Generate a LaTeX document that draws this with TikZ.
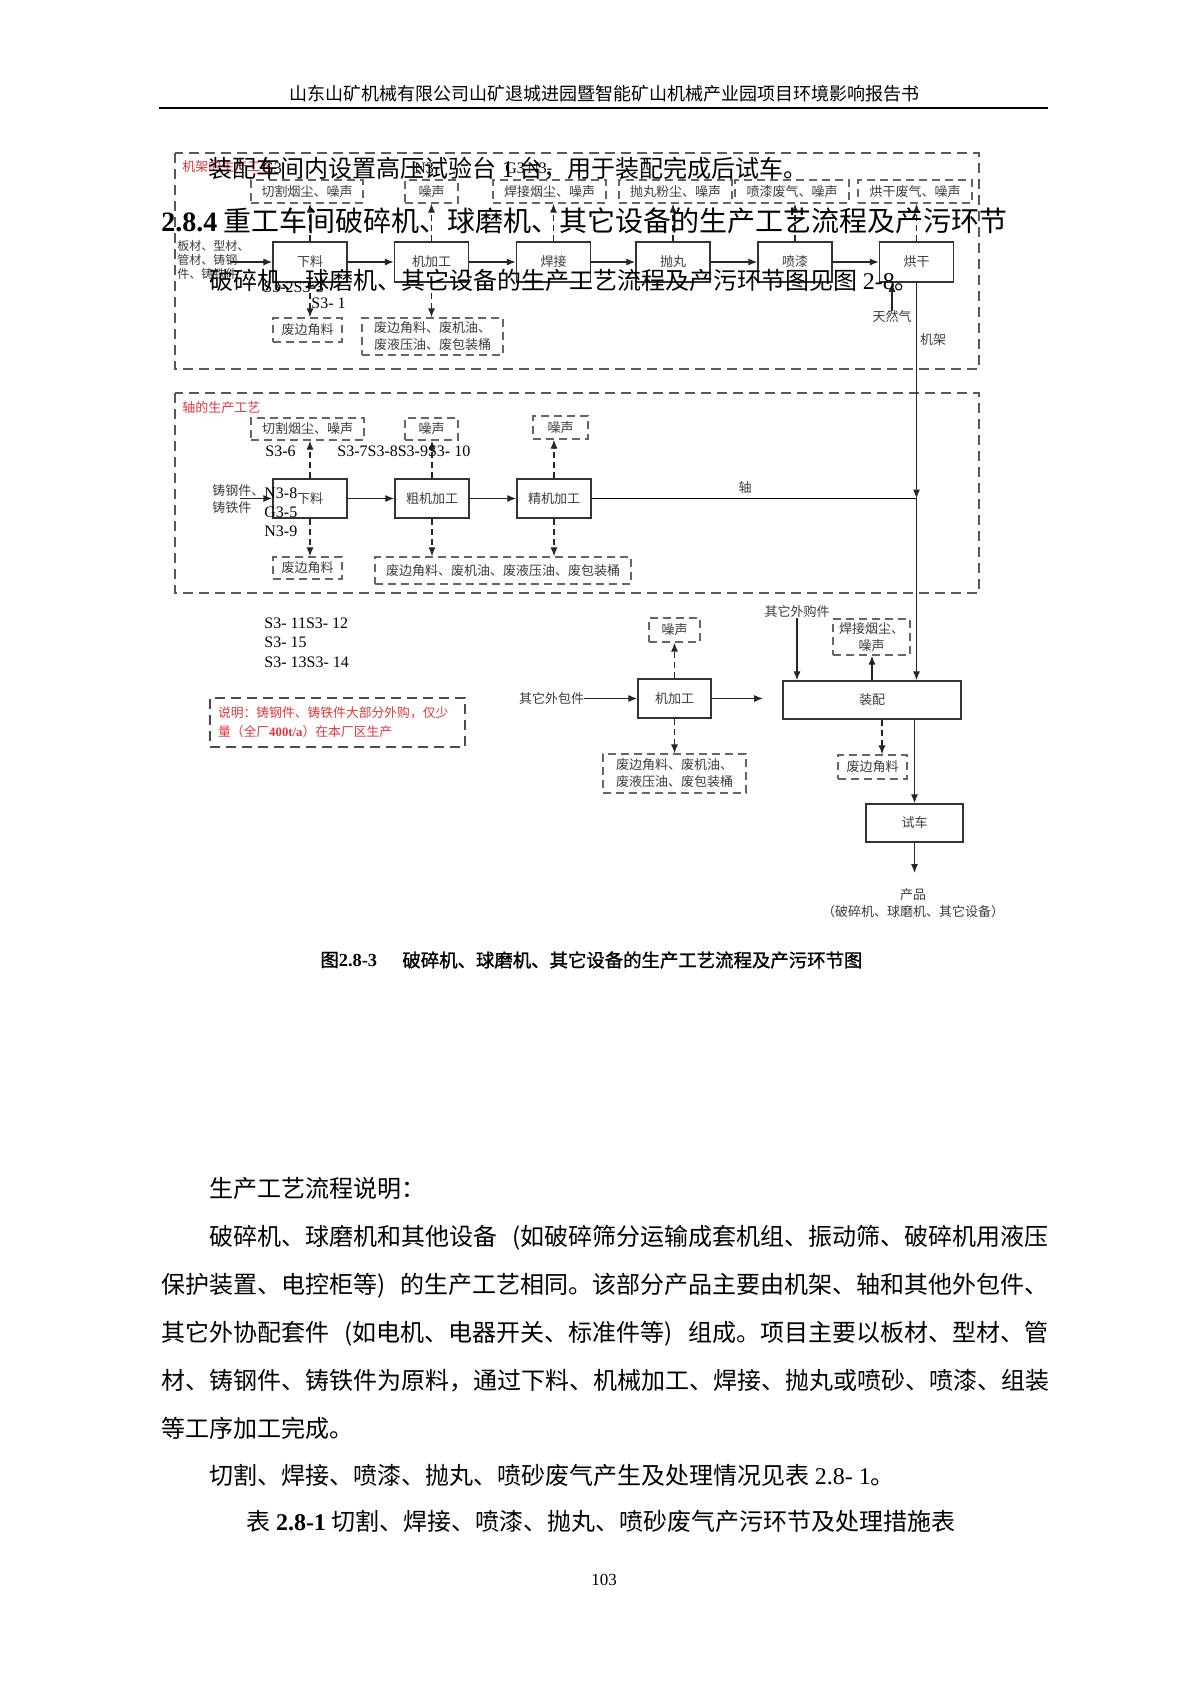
\documentclass[tikz,border=0pt]{standalone}
\usepackage{fontspec}
\setmainfont{Liberation Serif}
\newfontfamily\cjk{Noto Sans CJK SC}
\newfontfamily\cjkfb{Noto Sans CJK SC}[FakeBold=1.2]
\usetikzlibrary{arrows.meta}
\definecolor{redlbl}{RGB}{225,55,60}
\definecolor{ink}{RGB}{60,60,60}
\newcommand\jl[2]{{\XeTeXlinebreaklocale "zh"\XeTeXlinebreakskip=0pt plus 1fil\relax\hbox to #1{#2}}}
\tikzset{
 lbl/.style={font=\cjk\fontsize{6.5}{8.5}\selectfont, text=ink, inner sep=0pt, align=center},
 proc/.style={lbl, draw=black!80, line width=0.75pt},
 emis/.style={lbl, draw=black!60, line width=0.7pt, dash pattern=on 4pt off 2.5pt},
 frame/.style={draw=black!65, line width=0.8pt, dash pattern=on 5pt off 3pt},
 arr/.style={draw=black!85, line width=0.65pt, -{Latex[length=4.5pt,width=3.6pt]}},
 darr/.style={arr, dash pattern=on 3pt off 2pt},
 redl/.style={font=\cjk\fontsize{6.5}{8.5}\selectfont, text=redlbl, inner sep=0pt, anchor=west},
 code/.style={font=\rmfamily\fontsize{8}{9}\selectfont, inner sep=0pt, anchor=west},
 body/.style={font=\cjk\fontsize{12}{24}\selectfont, inner sep=0pt, anchor=base west},
}
\begin{document}
\begin{tikzpicture}[x=0.5pt,y=-0.5pt]
\fill[white] (0,0) rectangle (1190,1683);
\useasboundingbox (0,0) rectangle (1190,1683);
% header
\node[font=\cjk\fontsize{9}{11}\selectfont, inner sep=0pt] (hdr) at (604,94) {山东山矿机械有限公司山矿退城进园暨智能矿山机械产业园项目环境影响报告书};
\draw[line width=1.2pt] (159,108) -- (1048,108);

% ===== frame 1 =====
\draw[frame] (175,153) rectangle (979,369);
\node[redl] (r1) at (182,167) {机架的生产工艺};
\node[emis, minimum width=56pt, minimum height=11.5pt] (e1) at (307,191.5) {切割烟尘、噪声};
\node[emis, minimum width=26.5pt, minimum height=11.5pt] (e2) at (431.5,191.5) {噪声};
\node[emis, minimum width=56.5pt, minimum height=11.5pt] (e3) at (549.5,191.5) {焊接烟尘、噪声};
\node[emis, minimum width=56.5pt, minimum height=11.5pt] (e4) at (675.5,191.5) {抛丸粉尘、噪声};
\node[emis, minimum width=57pt, minimum height=11.5pt] (e5) at (792,191.5) {喷漆废气、噪声};
\node[emis, minimum width=57pt, minimum height=11.5pt] (e6) at (915,191.5) {烘干废气、噪声};
\node[proc, minimum width=37pt, minimum height=20pt] (p1) at (310,262) {下料};
\node[proc, minimum width=37pt, minimum height=20pt] (p2) at (431.5,262) {机加工};
\node[proc, minimum width=37pt, minimum height=20pt] (p3) at (553.5,262) {焊接};
\node[proc, minimum width=37pt, minimum height=20pt] (p4) at (673,262) {抛丸};
\node[proc, minimum width=37pt, minimum height=20pt] (p5) at (795,262) {喷漆};
\node[proc, minimum width=37pt, minimum height=20pt] (p6) at (916.5,262) {烘干};
\node[lbl, font=\cjk\fontsize{6}{7}\selectfont, align=left, anchor=west] (in1) at (177,259.5) {板材、型材、\\管材、铸钢\\件、铸铁件};
\coordinate (in1s) at (230,262);
\draw[arr] (in1s) -- (p1.west);
\draw[arr] (p1) -- (p2);
\draw[arr] (p2) -- (p3);
\draw[arr] (p3) -- (p4);
\draw[arr] (p4) -- (p5);
\draw[arr] (p5) -- (p6);
\foreach \p/\e in {p1/e1,p2/e2,p3/e3,p4/e4,p5/e5,p6/e6}
  \draw[darr] (\p.north) -- (\p.north |- \e.south);
\node[emis, minimum width=34.5pt, minimum height=12pt] (w1) at (307.5,330) {废边角料};
\node[emis, minimum width=70.5pt, minimum height=18.5pt] (w2) at (432.5,336.5) {废边角料、废机油、\\废液压油、废包装桶};
\draw[darr] (p1.south) -- (p1.south |- w1.north);
\draw[darr] (p2.south) -- (p2.south |- w2.north);
\node[lbl] (gas) at (892,317) {天然气};
\draw[arr] (gas.north) -- (gas.north |- p6.south);
\node[lbl] (jj) at (933,340) {机架};

% ===== frame 2 =====
\draw[frame] (175,393) rectangle (979,593);
\node[redl] (r2) at (182,408) {轴的生产工艺};
\node[emis, minimum width=56.5pt, minimum height=11pt] (s1) at (307.5,429) {切割烟尘、噪声};
\node[emis, minimum width=26.5pt, minimum height=11pt] (s2) at (431.5,429) {噪声};
\node[emis, minimum width=27.5pt, minimum height=11.5pt] (s3) at (560.5,427.5) {噪声};
\node[proc, minimum width=37pt, minimum height=19.5pt] (q1) at (310,498.5) {下料};
\node[proc, minimum width=37pt, minimum height=19.5pt] (q2) at (432,498.5) {粗机加工};
\node[proc, minimum width=37pt, minimum height=19.5pt] (q3) at (554,498.5) {精机加工};
\node[lbl, align=left, anchor=west] (in2) at (212,499.5) {铸钢件、\\铸铁件};
\coordinate (in2s) at (240,498.5);
\draw[arr] (in2s) -- (q1.west);
\draw[arr] (q1) -- (q2);
\draw[arr] (q2) -- (q3);
\foreach \p/\e in {q1/s1,q2/s2,q3/s3}
  \draw[darr] (\p.north) -- (\p.north |- \e.south);
\node[emis, minimum width=34.5pt, minimum height=11pt] (w3) at (307.5,568) {废边角料};
\node[emis, minimum width=128pt, minimum height=13.5pt] (w4) at (503,570.5) {废边角料、废机油、废液压油、废包装桶};
\draw[darr] (q1.south) -- (q1.south |- w3.north);
\draw[darr] (q2.south) -- (q2.south |- w4.north);
\draw[darr] (q3.south) -- (q3.south |- w4.north);
\coordinate (J) at (p6.south |- q3.east);
\draw (q3.east) -- (J);
\node[lbl] (zhou) at (745,488) {轴};

% ===== bottom =====
\node[proc, minimum width=89pt, minimum height=19pt] (zp) at (872,700) {装配};
\node[emis, minimum width=38.5pt, minimum height=18pt] (e7) at (871.5,637) {焊接烟尘、\\噪声};
\node[lbl] (ow) at (797,612) {其它外购件};
\node[proc, minimum width=36.5pt, minimum height=19.5pt] (mj) at (674.5,698.5) {机加工};
\node[emis, minimum width=25.5pt, minimum height=12pt] (e8) at (674.5,630) {噪声};
\node[lbl] (ob) at (551.5,698.5) {其它外包件};
\coordinate (mo) at (763,698.5);
\node[emis, minimum width=71.5pt, minimum height=19.5pt] (w5) at (674.5,773.5) {废边角料、废机油、\\废液压油、废包装桶};
\node[emis, minimum width=34.5pt, minimum height=12pt] (w6) at (872.5,767) {废边角料};
\node[proc, minimum width=48.5pt, minimum height=19pt] (sc) at (914.5,823) {试车};
\coordinate (pr) at (914.5,873);
\node[lbl] (prod) at (913,903) {产品\\（破碎机、球磨机、其它设备）};
\draw[arr] (p6.south) -- (J);
\draw[arr] (J) -- (J |- zp.north);
\draw[arr] (ow.south) -- (ow.south |- zp.north);
\draw[arr] (zp.north) -- (zp.north |- e7.south);
\draw[arr] (ob.east) -- (mj.west);
\draw[arr] (mj.east) -- (mo);
\draw[darr] (mj.north) -- (mj.north |- e8.south);
\draw[darr] (mj.south) -- (mj.south |- w5.north);
\draw[darr] ([xshift=5pt]zp.south) -- ([xshift=5pt]zp.south |- w6.north);
\draw[arr] (zp.south -| sc.north) -- (sc.north);
\draw[arr] (sc.south) -- (pr);

% note
\node[draw=black!70, line width=0.8pt, dash pattern=on 5pt off 3pt, text=redlbl,
      font=\cjk\fontsize{6.4}{9.5}\selectfont, align=left, text width=119.5pt,
      inner xsep=4pt, inner ysep=0pt, minimum height=24.5pt] (note) at (337.5,722.5)
  {说明：铸钢件、铸铁件大部分外购，仅少\\量（全厂{\rmfamily\bfseries 400t/a}）在本厂区生产};

% overlaid code labels
\node[code] (c1) at (263,287) {S3-2S3-3};
\node[code] (c2) at (311,303) {S3- 1};
\node[code] (c3) at (265,451) {S3-6};
\node[code] (c4) at (337,451) {S3-7S3-8S3-9S3- 10};
\node[code] (c5) at (264,493) {N3-8};
\node[code] (c6) at (264,512) {G3-5};
\node[code] (c7) at (264,531) {N3-9};
\node[code] (c8) at (264,623) {S3- 11S3- 12};
\node[code] (c9) at (264,642) {S3- 15};
\node[code] (c10) at (264,662) {S3- 13S3- 14};
\node[code] (c11) at (262,168) {G3};
\node[code] (c12) at (414,168) {N3};
\node[code] (c13) at (505,168) {G3};
\node[code] (c14) at (527,168) {N3-};

% overlaid body text
\node[body] (a1) at (208,177) {装配车间内设置高压试验台 {\rmfamily 1} 台，用于装配完成后试车。};
\node[body, font=\cjk\fontsize{14}{18}\selectfont] (a2) at (161,231) {{\rmfamily\bfseries 2.8.4} 重工车间破碎机、球磨机、其它设备的生产工艺流程及产污环节};
\node[body] (a3) at (209,289) {破碎机、球磨机、其它设备的生产工艺流程及产污环节图见图 {\rmfamily 2-8}。};

% caption
\node[font=\cjkfb\fontsize{9.2}{11}\selectfont, inner sep=0pt, anchor=west] (cap1) at (320,960) {图{\rmfamily\bfseries 2.8-3}};
\node[font=\cjkfb\fontsize{9.2}{11}\selectfont, inner sep=0pt, anchor=west] (cap2) at (402,960) {破碎机、球磨机、其它设备的生产工艺流程及产污环节图};

% body paragraph
\node[body] (t0) at (209,1197) {生产工艺流程说明：};
\node[body] (t1) at (209,1245) {\jl{419.5pt}{破碎机、球磨机和其他设备 (如破碎筛分运输成套机组、振动筛、破碎机用液压}};
\node[body] (t2) at (161,1293.5) {\jl{443.5pt}{保护装置、电控柜等) 的生产工艺相同。该部分产品主要由机架、轴和其他外包件、}};
\node[body] (t3) at (161,1341) {\jl{443.5pt}{其它外协配套件 (如电机、电器开关、标准件等) 组成。项目主要以板材、型材、管}};
\node[body] (t4) at (161,1389) {\jl{443.5pt}{材、铸钢件、铸铁件为原料，通过下料、机械加工、焊接、抛丸或喷砂、喷漆、组装}};
\node[body] (t5) at (161,1437) {等工序加工完成。};
\node[body] (t6) at (209,1484.5) {切割、焊接、喷漆、抛丸、喷砂废气产生及处理情况见表 {\rmfamily 2.8- 1}。};
\node[body, anchor=base] (t7) at (601,1530.7) {表 {\rmfamily\bfseries 2.8-1} 切割、焊接、喷漆、抛丸、喷砂废气产污环节及处理措施表};
\node[font=\rmfamily\fontsize{8.5}{10}\selectfont, inner sep=0pt] (pg) at (604,1580) {103};
\end{tikzpicture}
\end{document}
